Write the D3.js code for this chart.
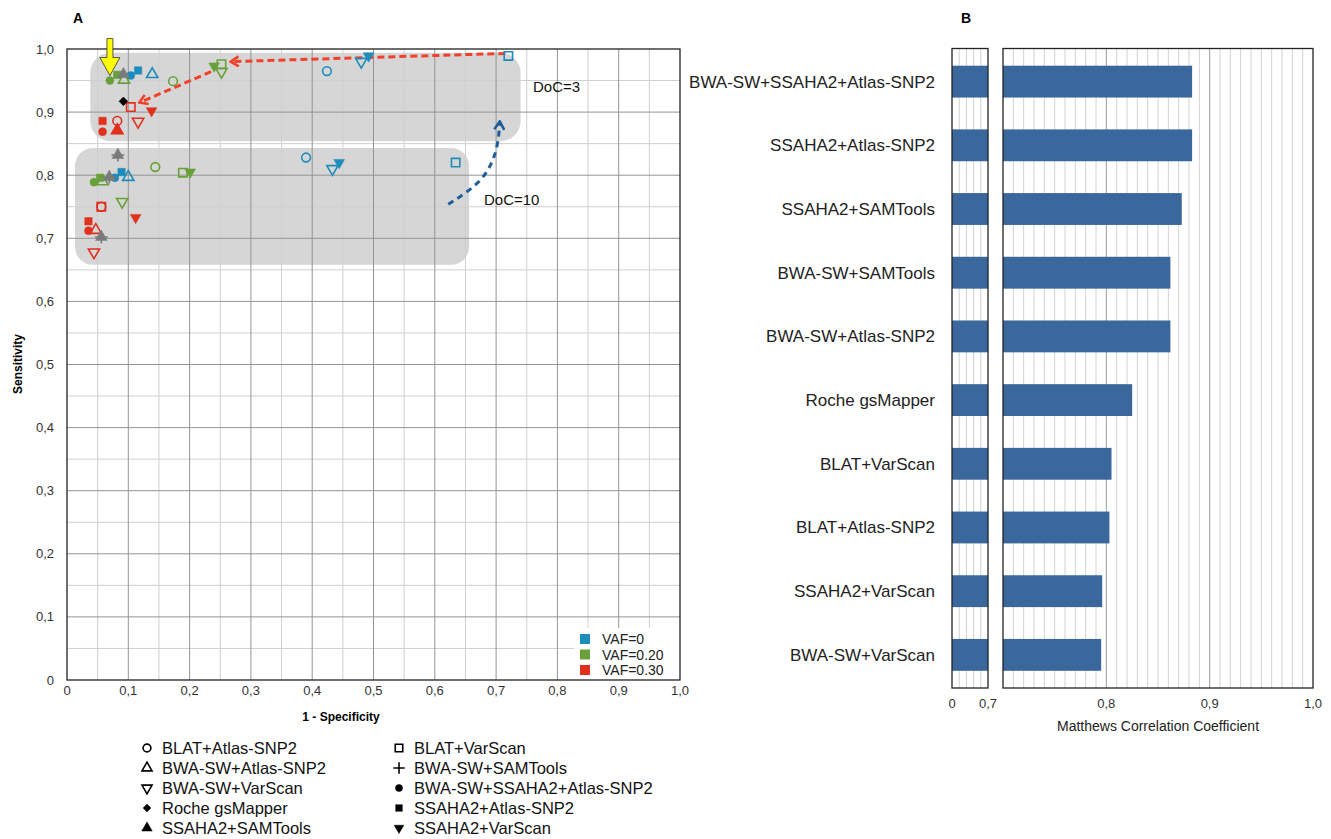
<!DOCTYPE html>
<html>
<head>
<meta charset="utf-8">
<script src="https://cdn.jsdelivr.net/npm/d3@7"></script>
<style>
  body { margin: 0; background: #fff; }
  svg text { font-family: "Liberation Sans", Arial, sans-serif; }
</style>
</head>
<body>
<svg id="chart" width="1331" height="839"></svg>
<script>
// ---- data ----
var methods = ["BLAT+Atlas-SNP2", "BWA-SW+Atlas-SNP2", "BWA-SW+VarScan", "Roche gsMapper", "SSAHA2+SAMTools",
               "BLAT+VarScan", "BWA-SW+SAMTools", "BWA-SW+SSAHA2+Atlas-SNP2", "SSAHA2+Atlas-SNP2", "SSAHA2+VarScan"];
var vafLevels = ["VAF=0", "VAF=0.20", "VAF=0.30"];

// [method, 1 - specificity, sensitivity]   DoC=3 cluster
var doc3Vaf0 = [
    ["BWA-SW+SSAHA2+Atlas-SNP2", 0.104, 0.958], ["SSAHA2+Atlas-SNP2", 0.116, 0.966], ["BWA-SW+Atlas-SNP2", 0.139, 0.960],
    ["BLAT+Atlas-SNP2", 0.424, 0.965], ["BWA-SW+VarScan", 0.480, 0.980], ["SSAHA2+VarScan", 0.492, 0.989],
    ["BLAT+VarScan", 0.720, 0.989]
];
var doc3Vaf20 = [
    ["BWA-SW+SSAHA2+Atlas-SNP2", 0.070, 0.950], ["SSAHA2+Atlas-SNP2", 0.082, 0.959], ["BWA-SW+Atlas-SNP2", 0.093, 0.951],
    ["BLAT+Atlas-SNP2", 0.173, 0.949], ["SSAHA2+VarScan", 0.240, 0.973], ["BLAT+VarScan", 0.252, 0.976],
    ["BWA-SW+VarScan", 0.252, 0.964]
];
var doc3Vaf30 = [
    ["BLAT+VarScan", 0.104, 0.908], ["SSAHA2+VarScan", 0.138, 0.902], ["SSAHA2+Atlas-SNP2", 0.058, 0.886],
    ["BLAT+Atlas-SNP2", 0.082, 0.886], ["BWA-SW+VarScan", 0.116, 0.885], ["BWA-SW+SSAHA2+Atlas-SNP2", 0.058, 0.869],
    ["BWA-SW+Atlas-SNP2", 0.082, 0.871], ["SSAHA2+SAMTools", 0.082, 0.871]
];
var doc3Other = [
    ["SSAHA2+SAMTools", 0.092, 0.960], ["Roche gsMapper", 0.092, 0.917]
];
// DoC=10 cluster
var doc10Vaf0 = [
    ["BWA-SW+SSAHA2+Atlas-SNP2", 0.078, 0.796], ["SSAHA2+Atlas-SNP2", 0.089, 0.805], ["BWA-SW+Atlas-SNP2", 0.100, 0.797],
    ["BLAT+Atlas-SNP2", 0.390, 0.828], ["BWA-SW+VarScan", 0.433, 0.810], ["SSAHA2+VarScan", 0.444, 0.820],
    ["BLAT+VarScan", 0.634, 0.820]
];
var doc10Vaf20 = [
    ["BWA-SW+SSAHA2+Atlas-SNP2", 0.044, 0.789], ["SSAHA2+Atlas-SNP2", 0.054, 0.796], ["BWA-SW+Atlas-SNP2", 0.058, 0.790],
    ["BLAT+Atlas-SNP2", 0.144, 0.813], ["BLAT+VarScan", 0.189, 0.804], ["SSAHA2+VarScan", 0.201, 0.805],
    ["BWA-SW+VarScan", 0.090, 0.758]
];
var doc10Vaf30 = [
    ["BLAT+VarScan", 0.056, 0.750], ["BLAT+Atlas-SNP2", 0.056, 0.750], ["SSAHA2+VarScan", 0.112, 0.733],
    ["SSAHA2+Atlas-SNP2", 0.035, 0.727], ["BWA-SW+SSAHA2+Atlas-SNP2", 0.035, 0.712], ["BWA-SW+Atlas-SNP2", 0.047, 0.713],
    ["BWA-SW+VarScan", 0.044, 0.678]
];
var doc10Other = [
    ["SSAHA2+SAMTools", 0.083, 0.832], ["BWA-SW+SAMTools", 0.083, 0.832],
    ["SSAHA2+SAMTools", 0.069, 0.797], ["BWA-SW+SAMTools", 0.069, 0.797],
    ["SSAHA2+SAMTools", 0.056, 0.702], ["BWA-SW+SAMTools", 0.056, 0.702]
];

// panel B
var pipelines = ["BWA-SW+SSAHA2+Atlas-SNP2", "SSAHA2+Atlas-SNP2", "SSAHA2+SAMTools", "BWA-SW+SAMTools", "BWA-SW+Atlas-SNP2",
                 "Roche gsMapper", "BLAT+VarScan", "BLAT+Atlas-SNP2", "SSAHA2+VarScan", "BWA-SW+VarScan"];
var mcc = [0.883, 0.883, 0.873, 0.862, 0.862, 0.825, 0.805, 0.803, 0.796, 0.795];

// ---- helpers ----
var vafColor = { "VAF=0": "#1b8cbc", "VAF=0.20": "#68a03a", "VAF=0.30": "#e0301e", "grey": "#7a7a7a", "black": "#000" };
var shapeOf = {
    "BLAT+Atlas-SNP2": { type: d3.symbolCircle, open: true, size: 60 },
    "BWA-SW+Atlas-SNP2": { type: d3.symbolTriangle, open: true, size: 55 },
    "BWA-SW+VarScan": { type: d3.symbolTriangle, open: true, size: 55, rot: 180 },
    "Roche gsMapper": { type: d3.symbolSquare, open: false, size: 38, rot: 45 },
    "SSAHA2+SAMTools": { type: d3.symbolTriangle, open: false, size: 60 },
    "BLAT+VarScan": { type: d3.symbolSquare, open: true, size: 70 },
    "BWA-SW+SAMTools": { type: d3.symbolPlus, open: true, size: 55 },
    "BWA-SW+SSAHA2+Atlas-SNP2": { type: d3.symbolCircle, open: false, size: 50 },
    "SSAHA2+Atlas-SNP2": { type: d3.symbolSquare, open: false, size: 55 },
    "SSAHA2+VarScan": { type: d3.symbolTriangle, open: false, size: 50, rot: 180 }
};
function comma (d) { return d === 0 ? "0" : d.toFixed(1).replace(".", ","); }

function drawMarker (g, method, x, y, color, scale) {
    var s = shapeOf[method];
    g.append("path")
        .attr("d", d3.symbol().type(s.type).size(s.size * (scale || 1))())
        .attr("transform", "translate(" + x + "," + y + ")" + (s.rot ? " rotate(" + s.rot + ")" : ""))
        .attr("fill", s.open ? "none" : color)
        .attr("stroke", color)
        .attr("stroke-width", s.open ? 1.6 : 0.5);
}

var svg = d3.select("#chart");

// ================= Panel A =================
var x = d3.scaleLinear().domain([0, 1]).range([67, 680]);
var y = d3.scaleLinear().domain([0, 1]).range([680, 49]);
var gA = svg.append("g");

// grey cluster boxes
gA.append("rect").attr("x", x(0.038)).attr("y", y(0.994)).attr("width", x(0.74) - x(0.038)).attr("height", y(0.854) - y(0.994))
    .attr("rx", 20).attr("fill", "#d6d6d6");
gA.append("rect").attr("x", x(0.013)).attr("y", y(0.843)).attr("width", x(0.656) - x(0.013)).attr("height", y(0.658) - y(0.843))
    .attr("rx", 18).attr("fill", "#d6d6d6");

var minor = d3.range(0.05, 1, 0.1);
var major = d3.range(0.1, 1, 0.1);
gA.selectAll(".vmin").data(minor).enter().append("line")
    .attr("x1", d => x(d)).attr("x2", d => x(d)).attr("y1", y(0)).attr("y2", y(1)).attr("stroke", "#cfcfcf");
gA.selectAll(".hmin").data(minor).enter().append("line")
    .attr("y1", d => y(d)).attr("y2", d => y(d)).attr("x1", x(0)).attr("x2", x(1)).attr("stroke", "#cfcfcf");
gA.selectAll(".vmaj").data(major).enter().append("line")
    .attr("x1", d => x(d)).attr("x2", d => x(d)).attr("y1", y(0)).attr("y2", y(1)).attr("stroke", "#949494");
gA.selectAll(".hmaj").data(major).enter().append("line")
    .attr("y1", d => y(d)).attr("y2", d => y(d)).attr("x1", x(0)).attr("x2", x(1)).attr("stroke", "#949494");

// tick labels
var ticks = d3.range(0, 1.01, 0.1).map(d => +d.toFixed(1));
gA.selectAll(".xt").data(ticks).enter().append("text")
    .attr("x", d => x(d)).attr("y", 695).attr("text-anchor", "middle").attr("font-size", 13).attr("fill", "#333").text(comma);
gA.selectAll(".yt").data(ticks).enter().append("text")
    .attr("x", 54).attr("y", d => y(d) + 4.5).attr("text-anchor", "end").attr("font-size", 13).attr("fill", "#333").text(comma);

gA.append("text").attr("x", 341).attr("y", 721).attr("text-anchor", "middle").attr("font-size", 12).attr("font-weight", "bold").text("1 - Specificity");
gA.append("text").attr("transform", "translate(22,364) rotate(-90)").attr("text-anchor", "middle").attr("font-size", 12).attr("font-weight", "bold").text("Sensitivity");
svg.append("text").attr("x", 73).attr("y", 23).attr("font-size", 14).attr("font-weight", "bold").text("A");
svg.append("text").attr("x", 961).attr("y", 23).attr("font-size", 14).attr("font-weight", "bold").text("B");

// VAF legend (white box inside plot)
gA.append("rect").attr("x", 574).attr("y", 628).attr("width", x(1) - 574).attr("height", y(0) - 628).attr("fill", "#fff");
vafLevels.forEach(function (v, i) {
    gA.append("rect").attr("x", 580).attr("y", 634 + i * 15.5).attr("width", 10).attr("height", 10).attr("fill", vafColor[v]);
    gA.append("text").attr("x", 602).attr("y", 644 + i * 15.5).attr("font-size", 14).attr("fill", "#222").text(v);
});

// frame
gA.append("rect").attr("x", x(0)).attr("y", y(1)).attr("width", x(1) - x(0)).attr("height", y(0) - y(1))
    .attr("fill", "none").attr("stroke", "#222").attr("stroke-width", 1.3);

// arrows (annotations)
var defs = svg.append("defs");
function chevron (id, color) {
    defs.append("marker").attr("id", id).attr("viewBox", "0 0 12 12").attr("refX", 10).attr("refY", 6)
        .attr("markerWidth", 12).attr("markerHeight", 12).attr("markerUnits", "userSpaceOnUse").attr("orient", "auto")
        .append("path").attr("d", "M2,1 L10,6 L2,11").attr("fill", "none").attr("stroke", color).attr("stroke-width", 2.6);
}
chevron("redHead", "#f2402a");
chevron("blueHead", "#1f5c9a");
var line = d3.line().x(d => x(d[0])).y(d => y(d[1]));
var curve = d3.line().x(d => x(d[0])).y(d => y(d[1])).curve(d3.curveBasis);
gA.append("path").attr("d", line([[0.715, 0.993], [0.267, 0.980]])).attr("fill", "none")
    .attr("stroke", "#f2402a").attr("stroke-width", 3).attr("stroke-dasharray", "7,4").attr("marker-end", "url(#redHead)");
gA.append("path").attr("d", line([[0.235, 0.964], [0.118, 0.915]])).attr("fill", "none")
    .attr("stroke", "#f2402a").attr("stroke-width", 3).attr("stroke-dasharray", "7,4").attr("marker-end", "url(#redHead)");
gA.append("path").attr("d", curve([[0.622, 0.754], [0.68, 0.79], [0.703, 0.84], [0.706, 0.885]])).attr("fill", "none")
    .attr("stroke", "#1f5c9a").attr("stroke-width", 3).attr("stroke-dasharray", "6,5").attr("marker-end", "url(#blueHead)");

gA.append("text").attr("x", 533).attr("y", 92).attr("font-size", 15).attr("fill", "#111").text("DoC=3");
gA.append("text").attr("x", 484).attr("y", 205).attr("font-size", 15).attr("fill", "#111").text("DoC=10");

// markers
var gM = gA.append("g");
[[doc3Vaf0, "VAF=0"], [doc3Vaf20, "VAF=0.20"], [doc3Vaf30, "VAF=0.30"],
 [doc10Vaf0, "VAF=0"], [doc10Vaf20, "VAF=0.20"], [doc10Vaf30, "VAF=0.30"],
 [doc3Other, "grey"], [doc10Other, "grey"]].forEach(function (grp) {
    grp[0].forEach(function (p) {
        var c = p[0] === "Roche gsMapper" ? vafColor.black : vafColor[grp[1]];
        drawMarker(gM, p[0], x(p[1]), y(p[2]), c);
    });
});

// yellow arrow pointing at best pipeline
var ax = x(0.07), ay = y(0.95) - 5;
gA.append("path")
    .attr("d", "M" + (ax - 3) + "," + (ay - 37) + " L" + (ax + 3) + "," + (ay - 37) + " L" + (ax + 3) + "," + (ay - 18) +
               " L" + (ax + 10) + "," + (ay - 18) + " L" + ax + "," + ay + " L" + (ax - 10) + "," + (ay - 18) +
               " L" + (ax - 3) + "," + (ay - 18) + "Z")
    .attr("fill", "#ffff00").attr("stroke", "#333").attr("stroke-width", 0.8);

// symbol legend
var gL = svg.append("g");
methods.forEach(function (m, i) {
    var col = Math.floor(i / 5), row = i % 5;
    var lx = col === 0 ? 147 : 399, ly = 748 + row * 20;
    drawMarker(gL, m, lx, ly, "#000", 0.8);
    gL.append("text").attr("x", lx + 15).attr("y", ly + 6).attr("font-size", 16.5).attr("fill", "#111").text(m);
});

// ================= Panel B =================
var yb = d3.scaleBand().domain(pipelines).range([48.5, 688]).paddingInner(0.5).paddingOuter(0.27);
var xs = d3.scaleLinear().domain([0, 0.7]).range([952, 988]);
var xm = d3.scaleLinear().domain([0.7, 1.0]).range([1003, 1313]);
var gB = svg.append("g");

gB.selectAll(".sg").data([0.14, 0.28, 0.42, 0.56]).enter().append("line")
    .attr("x1", d => xs(d)).attr("x2", d => xs(d)).attr("y1", 48.5).attr("y2", 688).attr("stroke", "#cfcfcf");
var mcMinor = d3.range(71, 100).filter(d => d % 10 !== 0).map(d => d / 100);
gB.selectAll(".mg").data(mcMinor).enter().append("line")
    .attr("x1", d => xm(d)).attr("x2", d => xm(d)).attr("y1", 48.5).attr("y2", 688).attr("stroke", "#d2d2d2");
gB.selectAll(".mG").data([0.8, 0.9]).enter().append("line")
    .attr("x1", d => xm(d)).attr("x2", d => xm(d)).attr("y1", 48.5).attr("y2", 688).attr("stroke", "#9a9a9a");

gB.selectAll(".bs").data(pipelines).enter().append("rect")
    .attr("x", xs(0)).attr("y", d => yb(d)).attr("width", xs(0.7) - xs(0)).attr("height", yb.bandwidth()).attr("fill", "#3a679c");
gB.selectAll(".bm").data(pipelines).enter().append("rect")
    .attr("x", xm(0.7)).attr("y", d => yb(d)).attr("width", (d, i) => xm(mcc[i]) - xm(0.7)).attr("height", yb.bandwidth()).attr("fill", "#3a679c");

gB.append("rect").attr("x", xs(0)).attr("y", 48.5).attr("width", xs(0.7) - xs(0)).attr("height", 639.5)
    .attr("fill", "none").attr("stroke", "#222").attr("stroke-width", 1.3);
gB.append("rect").attr("x", xm(0.7)).attr("y", 48.5).attr("width", xm(1) - xm(0.7)).attr("height", 639.5)
    .attr("fill", "none").attr("stroke", "#222").attr("stroke-width", 1.3);

gB.selectAll(".lab").data(pipelines).enter().append("text")
    .attr("x", 935).attr("y", d => yb(d) + yb.bandwidth() / 2 + 6).attr("text-anchor", "end").attr("font-size", 17).attr("fill", "#222").text(d => d);

gB.selectAll(".st").data([0, 0.7]).enter().append("text")
    .attr("x", d => xs(d)).attr("y", 708).attr("text-anchor", "middle").attr("font-size", 13).attr("fill", "#333").text(comma);
gB.selectAll(".mt").data([0.8, 0.9, 1.0]).enter().append("text")
    .attr("x", d => xm(d)).attr("y", 708).attr("text-anchor", "middle").attr("font-size", 13).attr("fill", "#333").text(comma);
gB.append("text").attr("x", 1158).attr("y", 731).attr("text-anchor", "middle").attr("font-size", 14).attr("fill", "#222").text("Matthews Correlation Coefficient");
</script>
</body>
</html>
